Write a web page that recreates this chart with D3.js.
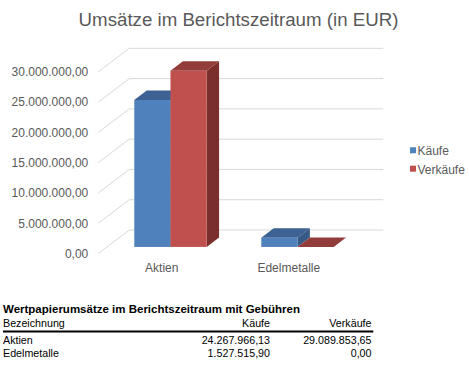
<!DOCTYPE html>
<html>
<head>
<meta charset="utf-8">
<script src="https://cdn.jsdelivr.net/npm/d3@7"></script>
<style>
  html, body { margin: 0; padding: 0; background: #ffffff; }
  svg { display: block; font-family: "Liberation Sans", Arial, sans-serif; }
</style>
</head>
<body>
<svg id="chart" width="469" height="366"></svg>
<script>
// ---- data ----
const categories = ["Aktien", "Edelmetalle"];
const seriesNames = ["Käufe", "Verkäufe"];
const kaeufe = [24267966.13, 1527515.90];
const verkaeufe = [29089853.65, 0.00];
const yTicks = [0, 5000000, 10000000, 15000000, 20000000, 25000000, 30000000];
const chartTitle = "Umsätze im Berichtszeitraum (in EUR)";
const tableTitle = "Wertpapierumsätze im Berichtszeitraum mit Gebühren";
const tableHeader = ["Bezeichnung", "Käufe", "Verkäufe"];

// ---- formatting (German locale) ----
const de = d3.formatLocale({ decimal: ",", thousands: ".", grouping: [3], currency: ["", " €"] });
const fmt = de.format(",.2f");

// ---- layout ----
const svg = d3.select("#chart");
const colors = {
  "Käufe":    { front: "#4f81bd", top: "#3c6192", side: "#375985" },
  "Verkäufe": { front: "#c0504d", top: "#933d3a", side: "#7b2f2d" }
};
const textCol = "#595959";
const gridCol = "#d9d9d9";

// depth vector (front -> back)
const DX = 31, DY = -23.5;
// y scale on the back wall
const y = d3.scaleLinear().domain([0, 30000000]).range([230, 48.3]);
// category band on the front plane
const xFront = d3.scaleBand().domain(categories).range([98.3, 352.3]).paddingInner(0).paddingOuter(0);
const groupW = 72.4;
const xInner = d3.scaleBand().domain(seriesNames).range([0, groupW]);
const tFront = 0.28, tBack = 0.68;

function P(xf, v, t) { // xf: x on front plane, v: value, t: depth 0..1
  return [xf + DX * t, y(v) - DY + DY * t];
}

// title
svg.append("text").attr("x", 238.5).attr("y", 26)
  .attr("text-anchor", "middle").attr("font-size", 18.7).attr("fill", textCol)
  .text(chartTitle);

// gridlines: back wall + side wall diagonals
const g = svg.append("g");
yTicks.forEach(v => {
  const b0 = P(xFront.range()[0], v, 1), b1 = P(xFront.range()[1], v, 1);
  g.append("line").attr("x1", b0[0]).attr("y1", b0[1]).attr("x2", b1[0]).attr("y2", b1[1])
    .attr("stroke", gridCol).attr("stroke-width", 1);
  const f0 = P(xFront.range()[0], v, 0);
  g.append("line").attr("x1", f0[0]).attr("y1", f0[1]).attr("x2", b0[0]).attr("y2", b0[1])
    .attr("stroke", gridCol).attr("stroke-width", 1);
  svg.append("text").attr("x", 88.3).attr("y", f0[1]).attr("dy", "0.36em")
    .attr("text-anchor", "end").attr("font-size", 12).attr("fill", textCol)
    .text(fmt(v));
});

// bars
const values = { "Käufe": kaeufe, "Verkäufe": verkaeufe };
const bars = svg.append("g");
const pts = a => a.map(p => p.join(",")).join(" ");
categories.forEach((c, ci) => {
  const gx = xFront(c) + (xFront.bandwidth() - groupW) / 2;
  seriesNames.forEach(s => {
    const v = values[s][ci];
    const x0 = gx + xInner(s), x1 = x0 + xInner.bandwidth();
    const col = colors[s];
    // side face
    if (v > 0) {
      bars.append("polygon").attr("points", pts([P(x1, 0, tFront), P(x1, 0, tBack), P(x1, v, tBack), P(x1, v, tFront)]))
        .attr("fill", col.side);
    }
    // top face
    bars.append("polygon").attr("points", pts([P(x0, v, tFront), P(x1, v, tFront), P(x1, v, tBack), P(x0, v, tBack)]))
      .attr("fill", col.top);
    // front face
    if (v > 0) {
      const a = P(x0, v, tFront), b = P(x1, 0, tFront);
      bars.append("rect").attr("x", a[0]).attr("y", a[1]).attr("width", b[0] - a[0]).attr("height", b[1] - a[1])
        .attr("fill", col.front);
    }
  });
  // category label
  svg.append("text").attr("x", xFront(c) + xFront.bandwidth() / 2).attr("y", 271.5)
    .attr("text-anchor", "middle").attr("font-size", 12).attr("fill", textCol).text(c);
});

// legend
seriesNames.forEach((s, i) => {
  const ly = 147.3 + i * 18.4;
  svg.append("rect").attr("x", 410).attr("y", ly).attr("width", 6).attr("height", 6).attr("fill", colors[s].front);
  svg.append("text").attr("x", 417.5).attr("y", ly + 7.8).attr("font-size", 12).attr("fill", textCol).text(s);
});

// table
const tf = 10.7;
svg.append("text").attr("x", 3).attr("y", 313.3).attr("font-size", 11.5).attr("font-weight", "bold")
  .attr("fill", "#000").text(tableTitle);
const colX = [3, 270, 371.5];
const anchors = ["start", "end", "end"];
tableHeader.forEach((h, i) => {
  svg.append("text").attr("x", colX[i]).attr("y", 327.3).attr("font-size", tf)
    .attr("text-anchor", anchors[i]).attr("fill", "#000").text(h);
});
svg.append("line").attr("x1", 3).attr("x2", 373.3).attr("y1", 331.5).attr("y2", 331.5)
  .attr("stroke", "#000").attr("stroke-width", 2);
categories.forEach((c, ci) => {
  const ry = 343.5 + ci * 13.8;
  const row = [c, fmt(kaeufe[ci]), fmt(verkaeufe[ci])];
  row.forEach((t, i) => {
    svg.append("text").attr("x", colX[i]).attr("y", ry).attr("font-size", tf)
      .attr("text-anchor", anchors[i]).attr("fill", "#000").text(t);
  });
});
</script>
</body>
</html>
